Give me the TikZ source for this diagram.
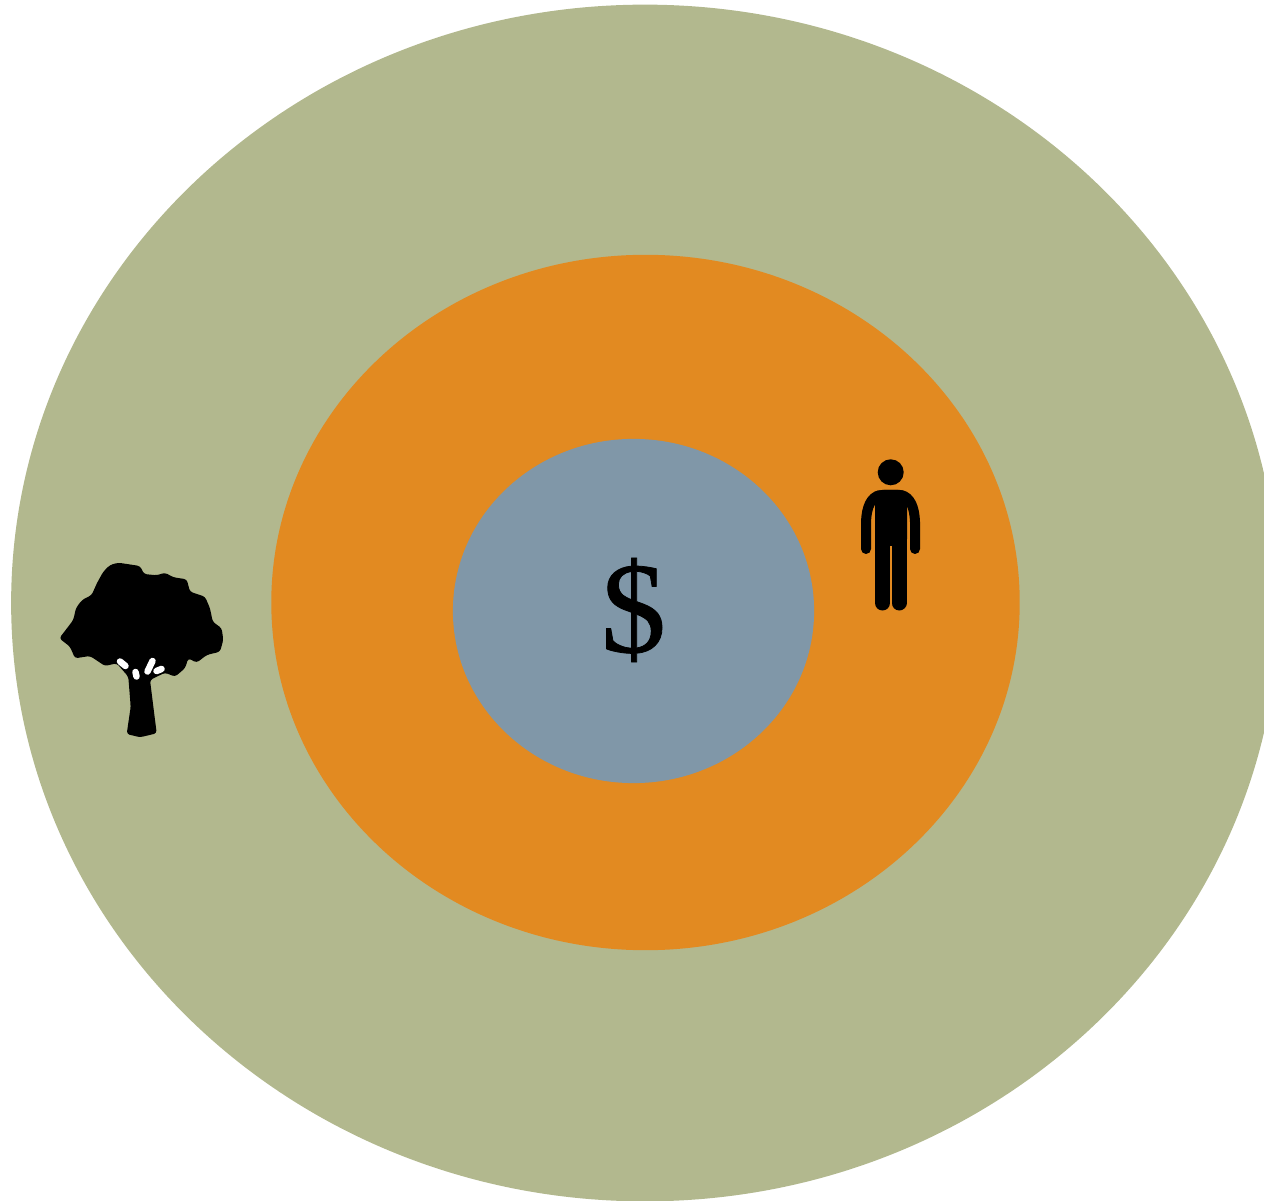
\documentclass[tikz,border=0pt]{standalone}
\usepackage{fontspec}
\newfontfamily\moneyfont[FakeBold=0.6]{Liberation Serif}
\usetikzlibrary{shapes.geometric}
\definecolor{outerc}{HTML}{B2B88E}
\definecolor{midc}{HTML}{E28A21}
\definecolor{innerc}{HTML}{8097A8}

\begin{document}
\begin{tikzpicture}[x=0.01cm,y=-0.01cm,ring/.style={ellipse,inner sep=0pt,outer sep=0pt},limb/.style={line cap=round,line join=round,line width=0.1cm},leg/.style={line cap=round,line width=0.15cm},gap/.style={white,line cap=round,line width=0.065cm}]
\useasboundingbox (0,0) rectangle (1264,1201);
\clip (0,0) rectangle (1264,1201);
\node[ring,fill=outerc,minimum width=12.67cm,minimum height=11.96cm] (outer) at (645,603) {};
\node[ring,fill=midc,minimum width=7.48cm,minimum height=6.95cm] (middle) at (645.5,602.5) {};
\node[ring,fill=innerc,minimum width=3.61cm,minimum height=3.44cm] (inner) at (633.5,611) {};
\node[font=\moneyfont\fontsize{37}{40}\selectfont,inner sep=0pt] (money) at (633.5,610) {\$};
% tree
\fill[black,rounded corners=0.8pt] (118.3,562.7) -- (140,566) -- (144,574) -- (156.7,575.3) -- (165,572.7) -- (173.3,577.3) -- (186.7,579.3) -- (190,591.7) -- (205,596.7) -- (210,608.3) -- (212.7,621.7) -- (221.7,628.3) -- (223.3,640) -- (220,651.7) -- (206.7,655) -- (196.7,662.7) -- (188.3,658.3) -- (185,668.3) -- (175,676.7) -- (165,672.7) -- (150,680) -- (156.7,733.3) -- (140,737.3) -- (126.7,734) -- (130.7,706.7) -- (128.3,676.7) -- (116.7,663.3) -- (105,666) -- (90,656) -- (75,658.3) -- (70,646.7) -- (59.3,638.3) -- (73.3,620) -- (76,608) -- (82,600) -- (91.7,595) -- (97,583) -- (103.3,571.7) -- (110,565) -- cycle;
\draw[gap] (120,661.5) -- (125.5,666);
\draw[gap] (135.5,672) -- (136.5,676.5);
\draw[gap] (152.5,661) -- (147.5,671.5);
\draw[gap] (161.5,669) -- (156.5,671);
% person
\fill[black] (890.7,472.3) circle[radius=13];
\fill[black,rounded corners=2pt] (875,490) -- (907,490) -- (907,546) -- (875,546) -- cycle;
\fill[black,rounded corners=3pt] (873,490) -- (909,490) -- (909,505) -- (873,505) -- cycle;
\draw[limb] (866,549) -- (866,522) .. controls (866.5,507) and (871,497) .. (880,495);
\draw[limb] (915,549) -- (915,522) .. controls (914.5,507) and (910,497) .. (901,495);
\draw[leg] (882.5,540) -- (882.5,603);
\draw[leg] (899,540) -- (899,603);
\end{tikzpicture}
\end{document}
